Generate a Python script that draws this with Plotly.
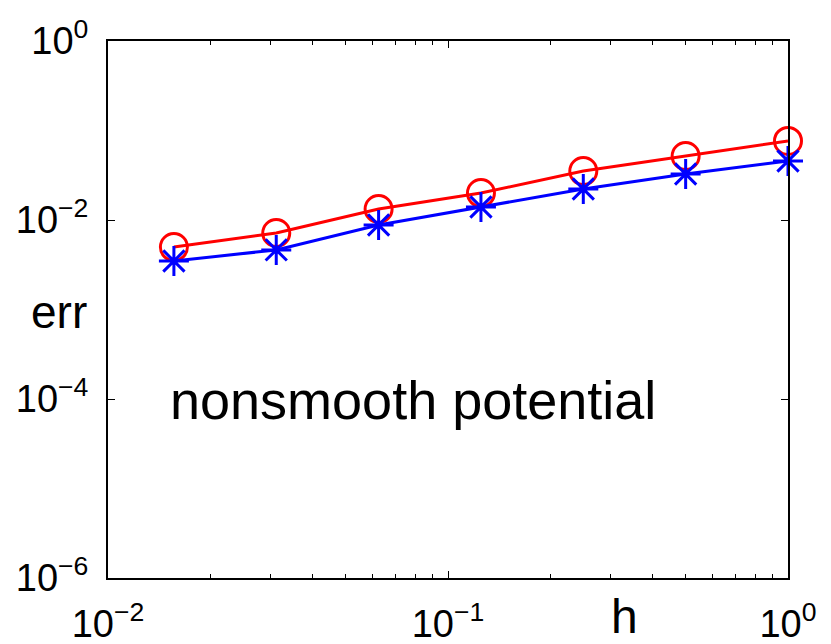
import plotly.graph_objects as go

# data
h = [1/64, 1/32, 1/16, 1/8, 1/4, 1/2, 1]
err_red = [0.00499, 0.00716, 0.01327, 0.0200, 0.0352, 0.0519, 0.0764]
err_blue = [0.00348, 0.00463, 0.00880, 0.01396, 0.0222, 0.0327, 0.0456]
x_tickvals = [0.01, 0.1, 1]
x_ticktext = ["10<sup>−2</sup>", "10<sup>−1</sup>", "10<sup>0</sup>"]
y_tickvals = [1e-6, 1e-4, 1e-2, 1]
y_ticktext = ["10<sup>−6</sup>", "10<sup>−4</sup>", "10<sup>−2</sup>", "10<sup>0</sup>"]
x_label = "h"
y_label = "err"
note = "nonsmooth potential"

FONT = "Liberation Sans, Arial, Helvetica, sans-serif"

fig = go.Figure()
fig.add_trace(go.Scatter(
    x=h, y=err_red, mode="lines+markers",
    line=dict(color="#ff0000", width=3),
    marker=dict(symbol="circle-open", size=27, color="#ff0000", line=dict(width=3, color="#ff0000")),
    showlegend=False, cliponaxis=False))
fig.add_trace(go.Scatter(
    x=h, y=err_blue, mode="lines+markers",
    line=dict(color="#0000ff", width=3),
    marker=dict(symbol="asterisk-open", size=25, color="#0000ff", line=dict(width=3, color="#0000ff")),
    showlegend=False, cliponaxis=False))

fig.update_layout(
    width=831, height=644,
    margin=dict(l=108, r=43, t=41, b=66),
    paper_bgcolor="white", plot_bgcolor="white",
    font=dict(family=FONT, color="black"),
    xaxis=dict(type="log", range=[-2, 0], tickvals=x_tickvals, ticktext=x_ticktext, automargin=False,
               showgrid=False, zeroline=False, showline=True, linecolor="black", linewidth=2,
               mirror="ticks", ticks="inside", ticklen=7, tickwidth=1, tickcolor="black",
               tickfont=dict(size=38, family=FONT), ticklabelstandoff=11,
               minor=dict(ticks="inside", ticklen=4, tickwidth=1, tickcolor="black", dtick="D1", showgrid=False)),
    yaxis=dict(type="log", range=[-6, 0], tickvals=y_tickvals, ticktext=y_ticktext, automargin=False,
               showgrid=False, zeroline=False, showline=True, linecolor="black", linewidth=2,
               mirror="ticks", ticks="inside", ticklen=7, tickwidth=1, tickcolor="black",
               tickfont=dict(size=38, family=FONT), ticklabelstandoff=10),
)

fig.add_annotation(x=0.759, y=-66/537, xref="paper", yref="paper", text=x_label, showarrow=False,
                   font=dict(size=48, family=FONT), xanchor="center", yanchor="bottom", borderpad=0)
fig.add_annotation(x=-0.072, y=0.495, xref="paper", yref="paper", text=y_label, showarrow=False,
                   font=dict(size=46, family=FONT), xanchor="center", yanchor="middle")
fig.add_annotation(x=-1.824, y=-4.011, xref="x", yref="y", text=note, showarrow=False,
                   font=dict(size=54, family=FONT), xanchor="left", yanchor="middle")

fig.write_html("out.html", config={"displayModeBar": False},
               post_script="document.body.style.margin='0';document.body.style.padding='0';")
